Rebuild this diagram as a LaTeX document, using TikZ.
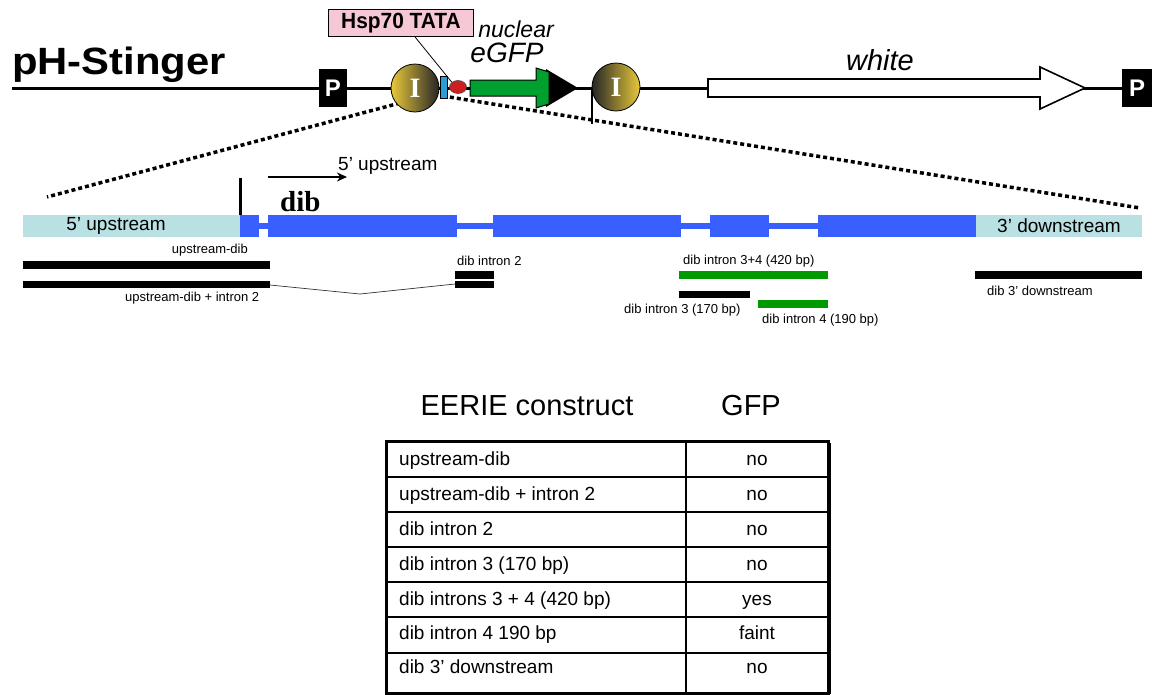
\documentclass[tikz,border=0pt]{standalone}
\usepackage{fontspec}
\usepackage{graphicx}
\setmainfont{Liberation Sans}
\newfontfamily\serifface{Liberation Serif}
\usetikzlibrary{shapes.geometric,arrows.meta}
\definecolor{exonblue}{HTML}{3960FF}
\definecolor{flankcyan}{HTML}{B9E0E3}
\definecolor{gfpgreen}{HTML}{00A030}
\definecolor{barg}{HTML}{009900}
\definecolor{hsppink}{HTML}{F6C8D6}
\definecolor{igold}{HTML}{E8C83A}
\definecolor{idark}{HTML}{262626}
\definecolor{tatared}{HTML}{CC2020}
\definecolor{inrblue}{HTML}{2A9FD6}
\begin{document}
\begin{tikzpicture}[x=1pt,y=-1pt,
  fs/.style={font=\fontsize{#1}{#1}\selectfont},
  pbox/.style={fill=black,text=white,minimum width=28pt,minimum height=38pt,inner sep=0,font=\bfseries\fontsize{24}{24}\selectfont},
  ibub/.style={circle,draw=black,line width=0.8pt,minimum size=48pt,inner sep=0,text=white,font=\serifface\bfseries\fontsize{28}{28}\selectfont},
  lab/.style={inner sep=0,font=\fontsize{13}{13}\selectfont},
  cell/.style={inner sep=0,text height=13.5pt,text depth=4pt,font=\fontsize{19}{19}\selectfont},
  dots/.style={line width=3.5pt,dash pattern=on 4pt off 3pt},
  bar/.style={fill=black,draw=none},
  gbar/.style={fill=barg,draw=none},
]
\useasboundingbox (0,0) rectangle (1152,694);

% ---------- top construct ----------
\coordinate (L0) at (12,88);
\coordinate (L1) at (1152,88);
\draw[line width=3pt] (L0) -- (L1);

\node[anchor=base west,inner sep=0,font=\bfseries\fontsize{38}{38}\selectfont] (title) at (12,74) {\scalebox{1.1}[1]{pH-Stinger}};

\node[pbox] (p1) at (333,88) {P};
\node[pbox,minimum width=30pt] (p2) at (1137,88) {P};

% white arrow
\draw[line width=1.6pt,fill=white] (708,79) -- (1040,79) -- (1040,67) -- (1085,88) -- (1040,109) -- (1040,97) -- (708,97) -- cycle;
\node[inner sep=0,font=\itshape\fontsize{29}{29}\selectfont] (white) at (880,60) {white};

% dotted zoom lines
\coordinate (dl0) at (400,103);
\coordinate (dl1) at (47,197);
\coordinate (dr0) at (443,96);
\coordinate (dr1) at (1140,208);
\draw[dots] (dl0) -- (dl1);
\draw[dots] (dr0) -- (dr1);
\coordinate (vt0) at (592,90);
\coordinate (vt1) at (592,124);
\draw[line width=1.3pt] (vt0) -- (vt1);

% intron bubbles
\node[ibub,left color=igold,right color=idark] (i1) at (415,88) {I};
\node[ibub,left color=idark,right color=igold] (i2) at (616,87) {I};

% inr + tata
\node[draw=black,line width=0.8pt,fill=inrblue,minimum width=7pt,minimum height=22pt,inner sep=0] (inr) at (443.5,87.5) {};
\node[ellipse,draw=black!70,line width=0.6pt,fill=tatared,minimum width=17pt,minimum height=13pt,inner sep=0] (tata) at (458,87) {};

% green eGFP arrow
\fill[black] (546,69) -- (578,88) -- (546,107) -- cycle;
\draw[line width=1pt,fill=gfpgreen] (470,80) -- (536,80) -- (536,68) -- (549,72) -- (549,104) -- (536,108) -- (536,96) -- (470,96) -- cycle;

% Hsp70 TATA label
\node[draw=black,line width=1.5pt,fill=hsppink,minimum width=145pt,minimum height=27pt,inner sep=0,font=\bfseries\fontsize{22}{22}\selectfont] (hsp) at (401,23) {\scalebox{0.95}[1]{Hsp70 TATA}};
\draw[line width=0.8pt] (hsp.315) -- (tata.north west);
\node[inner sep=0,font=\itshape\fontsize{23}{23}\selectfont] (nuc) at (516,29) {nuclear};
\node[inner sep=0,font=\itshape\fontsize{28}{28}\selectfont] (egfp) at (507,53) {eGFP};

% ---------- gene structure ----------
\fill[flankcyan] (23,215) rectangle (240,237);
\fill[flankcyan] (976,215) rectangle (1142,237);
\fill[exonblue] (240,223) rectangle (976,229);
\fill[exonblue] (240,215) rectangle (259,237);
\fill[exonblue] (268,215) rectangle (457,237);
\fill[exonblue] (493,215) rectangle (681,237);
\fill[exonblue] (710,215) rectangle (769,237);
\fill[exonblue] (818,215) rectangle (976,237);
\node[inner sep=0,fs=19] (up5) at (116,226) {5’ upstream};
\node[inner sep=0,fs=19] (dn3) at (1059,226) {3' downstream};

\coordinate (tk0) at (240,178);
\coordinate (tk1) at (240,215);
\draw[line width=3pt] (tk0) -- (tk1);
\coordinate (ar0) at (268,177);
\coordinate (ar1) at (347,177);
\draw[line width=2.6pt,-{Stealth[length=10pt,width=9pt]}] (ar0) -- (ar1);
\node[inner sep=0,fs=19,anchor=west] (up5b) at (338,166) {5’ upstream};
\node[inner sep=0,anchor=base west,font=\serifface\bfseries\fontsize{29}{29}\selectfont] (dib) at (280,211) {dib};

% ---------- constructs ----------
\fill[bar] (23,261) rectangle (270,269);
\fill[bar] (23,281) rectangle (270,288);
\node[lab,anchor=east] (l1) at (248,250) {upstream-dib};
\node[lab,anchor=west] (l2) at (125,298) {upstream-dib + intron 2};
\fill[bar] (455,271) rectangle (494,279);
\fill[bar] (455,281) rectangle (494,288);
\coordinate (v0) at (270,285);
\coordinate (v1) at (360,294);
\coordinate (v2) at (455,284);
\draw[line width=0.7pt,black!80] (v0) -- (v1) -- (v2);
\node[lab,anchor=west] (l3) at (457,261) {dib intron 2};
\fill[gbar] (679,271) rectangle (828,279);
\node[lab,anchor=west] (l4) at (683,261) {dib intron 3+4 (420 bp)};
\fill[bar] (679,291) rectangle (750,298);
\node[lab,anchor=west] (l5) at (624,310) {dib intron 3 (170 bp)};
\fill[gbar] (758,300) rectangle (828,308);
\node[lab,anchor=west] (l6) at (762,320) {dib intron 4 (190 bp)};
\fill[bar] (975,271) rectangle (1142,279);
\node[lab,anchor=west] (l7) at (987,291) {dib 3' downstream};

% ---------- table ----------
\node[inner sep=0,fs=29] (h1) at (527,406) {EERIE construct};
\node[inner sep=0,fs=29] (h2) at (751,406) {GFP};
\foreach \y in {477,512,547,582,617,653} \draw[line width=1.5pt] (386,\y) -- (828,\y);
\draw[line width=1.5pt] (686,441) -- (686,693);
\draw[line width=3pt] (386,441) rectangle (828,693);
\draw[line width=2pt] (830,443) -- (830,694);
\foreach \t/\g/\y [count=\i] in {upstream-dib/no/461, upstream-dib + intron 2/no/496, dib intron 2/no/531, dib intron 3 (170 bp)/no/566, dib introns 3 + 4 (420 bp)/yes/601, dib intron 4 190 bp/faint/635, dib 3' downstream/no/669}{
  \node[cell,anchor=west] (r\i) at (399,\y) {\t};
  \node[cell] (g\i) at (757,\y) {\g};
}
\end{tikzpicture}
\end{document}
